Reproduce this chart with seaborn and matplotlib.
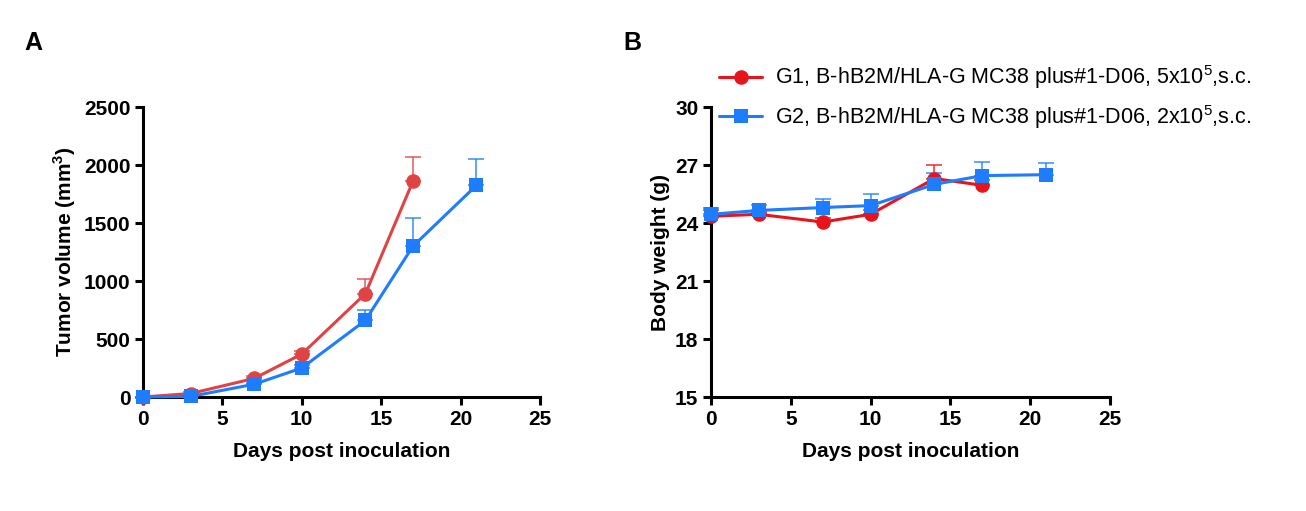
import numpy as np
import pandas as pd
import matplotlib
matplotlib.use("Agg")
import matplotlib.pyplot as plt
import seaborn as sns
from matplotlib.lines import Line2D

sns.set_style("ticks", {"axes.edgecolor": "black", "xtick.color": "black", "ytick.color": "black",
                        "text.color": "black", "axes.labelcolor": "black"})
plt.rcParams['font.family'] = ['Liberation Sans', 'DejaVu Sans']
plt.rcParams['mathtext.fontset'] = 'custom'
plt.rcParams['mathtext.rm'] = 'Liberation Sans'
plt.rcParams['mathtext.bf'] = 'Liberation Sans:bold'

# data
days_g1 = [0, 3, 7, 10, 14, 17]
days_g2 = [0, 3, 7, 10, 14, 17, 21]

vol_g1 = [0, 30, 160, 370, 890, 1860]
vol_g1_err = [0, 10, 20, 30, 130, 210]
vol_g2 = [0, 5, 110, 250, 660, 1300, 1825]
vol_g2_err = [0, 5, 15, 25, 90, 240, 225]

wt_g1 = [24.35, 24.45, 24.05, 24.45, 26.3, 25.95]
wt_g1_err = [0.3, 0.1, 0.2, 0.2, 0.7, 0.25]
wt_g2 = [24.45, 24.65, 24.8, 24.9, 26.0, 26.45, 26.5]
wt_g2_err = [0.35, 0.3, 0.45, 0.6, 0.6, 0.7, 0.6]

labels = ["G1, B-hB2M/HLA-G MC38 plus#1-D06, 5x10$^{5}$,s.c.",
          "G2, B-hB2M/HLA-G MC38 plus#1-D06, 2x10$^{5}$,s.c."]

fig = plt.figure(figsize=(13.06, 5.11), dpi=100)
axA = fig.add_axes([143/1306, 114/511, 397/1306, 290/511])
axB = fig.add_axes([711/1306, 114/511, 399/1306, 290/511])

FS = 15


def draw(ax, x, y, err, color, marker, ms):
    ax.errorbar(x, y, yerr=[np.zeros(len(err)), err], fmt='none', ecolor=color,
                elinewidth=1.3, capsize=6, capthick=1.3, alpha=0.75, zorder=2)
    sns.lineplot(x=x, y=y, ax=ax, color=color, marker=marker, markersize=ms,
                 markeredgewidth=0, linewidth=2.2, zorder=3)


# panel A
draw(axA, days_g1, vol_g1, vol_g1_err, "#E04343", "o", 10.5)
draw(axA, days_g2, vol_g2, vol_g2_err, "#1E7DFF", "s", 10)
axA.set_xlim(0, 25)
axA.set_ylim(0, 2500)
axA.set_xticks([0, 5, 10, 15, 20, 25])
axA.set_yticks([0, 500, 1000, 1500, 2000, 2500])
axA.set_xlabel("Days post inoculation", fontsize=FS, fontweight='bold', labelpad=10)
axA.set_ylabel(r"Tumor volume (mm$^\mathbf{3}$)", fontsize=FS, fontweight='bold')

# panel B
draw(axB, days_g1, wt_g1, wt_g1_err, "#E8141C", "o", 10.5)
draw(axB, days_g2, wt_g2, wt_g2_err, "#1E7DFF", "s", 10)
axB.set_xlim(0, 25)
axB.set_ylim(15, 30)
axB.set_xticks([0, 5, 10, 15, 20, 25])
axB.set_yticks([15, 18, 21, 24, 27, 30])
axB.set_xlabel("Days post inoculation", fontsize=FS, fontweight='bold', labelpad=10)
axB.set_ylabel("Body weight (g)", fontsize=FS, fontweight='bold')

for ax in (axA, axB):
    sns.despine(ax=ax)
    for s in ('left', 'bottom'):
        ax.spines[s].set_linewidth(2.2)
    ax.tick_params(width=2.2, length=6, labelsize=FS, pad=3, colors='black')
    for t in ax.get_xticklabels() + ax.get_yticklabels():
        t.set_fontweight('bold')
    for l in ax.lines:
        l.set_clip_on(False)
    for c in ax.collections:
        c.set_clip_on(False)

fig.text(24/1306, 1 - 50/511, "A", fontsize=18, fontweight='bold')
fig.text(623/1306, 1 - 50/511, "B", fontsize=18, fontweight='bold')

handles = [Line2D([], [], color="#E8141C", marker="o", markersize=10.5, markeredgewidth=0, linewidth=2.2),
           Line2D([], [], color="#1E7DFF", marker="s", markersize=10, markeredgewidth=0, linewidth=2.2)]
fig.legend(handles, labels, loc='upper left', bbox_to_anchor=(700/1306, 1 - 44/511),
           frameon=False, fontsize=15.5, handlelength=2.0, labelspacing=0.55, handletextpad=0.6)

fig.savefig("out.png", dpi=100)
